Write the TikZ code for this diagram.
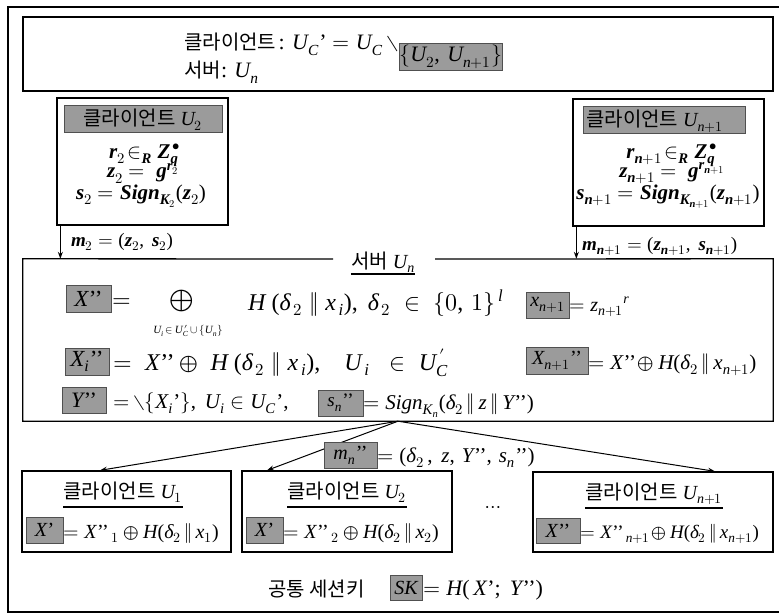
\documentclass[tikz,border=0pt]{standalone}
\usepackage{fontspec}
\usepackage{unicode-math}
\setmainfont{Liberation Serif}
\newfontfamily\kr{Noto Sans CJK KR}
\setmathfont{Latin Modern Math}
\setmathfont{Liberation Serif Italic}[range=it->up]
\setmathfont{Liberation Serif Bold Italic}[range=bfit->up]
\setmathfont{Liberation Serif}[range={"0030-"0039,"0028,"0029,"002C,"003B}]
\usetikzlibrary{arrows.meta,calc}
\definecolor{gfill}{RGB}{155,155,155}
\definecolor{gline}{RGB}{80,80,80}
\newcommand{\oddg}{\ensuremath{\setminus}}
\newcommand{\pr}{\mbox{\kern0.5pt’}}
\newcommand{\ppr}{\mbox{\kern0.5pt’’}}
\newcommand{\bi}[1]{\symbfit{#1}}
\begin{document}
\begin{tikzpicture}[x=1pt,y=-1pt,
  frame/.style={line width=1.4pt},
  box/.style={draw, line width=1.3pt, inner sep=0pt},
  ghost/.style={inner sep=0pt},
  gbox/.style={draw=gline, fill=gfill, line width=0.7pt, inner sep=0pt},
  t/.style={inner sep=0pt, font=\fontsize{20}{24}\selectfont},
  tl/.style={inner sep=0pt, font=\fontsize{24}{28}\selectfont},
  ts/.style={inner sep=0pt, font=\fontsize{21}{25}\selectfont},
  tb/.style={inner sep=0pt, font=\fontsize{21}{24}\selectfont\bfseries},
  tiny/.style={inner sep=0pt, font=\fontsize{11}{13}\selectfont},
  arr/.style={line width=1pt, -{Stealth[length=7pt,width=5pt]}},
  uline/.style={line width=1.2pt}]
\useasboundingbox (0,0) rectangle (779,615);
\begin{scope}
\clip (0,0) rectangle (779,615);
\draw[frame] (800,7) -- (8,7) -- (8,612) -- (800,612);
\end{scope}

% top box
\node[box, minimum width=750pt, minimum height=74pt] (top) at (398,54) {};
\node[anchor=base west, inner sep=0pt] (tl1) at (184,50) {{\fontsize{20}{24}\selectfont\kr 클라이언트} {\fontsize{22}{26}\selectfont : $U_{C}\pr=U_{C}$\,\oddg}};
\node[gbox, minimum height=27pt, anchor=west, font=\fontsize{22}{26}\selectfont] (tg) at ([yshift=-7pt]tl1.base east) {$\{U_2,\,U_{n+1}\}$};
\node[anchor=base west, inner sep=0pt] (tl2) at (184,78) {{\fontsize{20}{24}\selectfont\kr 서버}{\fontsize{22}{26}\selectfont: $U_n$}};

% client U2
\node[box, minimum width=171pt, minimum height=127pt] (c2) at (142.5,161.5) {};
\node[gbox, minimum width=158pt, minimum height=27pt] (c2h) at (143,118.5) {};
\node[t, anchor=base] (c2ht) at (143,126) {{\kr 클라이언트} $U_2$};
\node[tb, anchor=base] (c2a) at (145,158) {$\bi{r}_2\!\in_{\bi{R}} \bi{Z}_{\bi{q}}^{\,\bullet}$};
\node[tb, anchor=base] (c2b) at (143,178) {$\bi{z}_2=\ \bi{g}^{\bi{r}_2}$};
\node[tb, anchor=base] (c2c) at (141,199) {$\bi{s}_2=\bi{Sign}_{\bi{K}_2}(\bi{z}_2)$};
\node[tb, anchor=base west, font=\fontsize{19}{22}\selectfont] (m2) at (71,246) {$\bi{m}_2=(\bi{z}_2,\ \bi{s}_2)$};

% client Un+1
\node[box, minimum width=191pt, minimum height=127pt] (cn) at (668.5,162.5) {};
\node[gbox, minimum width=162pt, minimum height=27pt] (cnh) at (664,119.5) {};
\node[t, anchor=base west] (cnht) at (586,127) {{\kr 클라이언트} $U_{n+1}$};
\node[tb, anchor=base] (cna) at (672,158) {$\bi{r}_{\bi{n}+1}\!\in_{\bi{R}} \bi{Z}_{\bi{q}}^{\,\bullet}$};
\node[tb, anchor=base] (cnb) at (672,177) {$\bi{z}_{\bi{n}+1}=\ \bi{g}^{\bi{r}_{\bi{n}+1}}$};
\node[tb, anchor=base] (cnc) at (668,199) {$\bi{s}_{\bi{n}+1}=\bi{Sign}_{\bi{K}_{\bi{n}+1}}(\bi{z}_{\bi{n}+1})$};
\node[tb, anchor=base west, font=\fontsize{19}{22}\selectfont] (mn) at (582,250) {$\bi{m}_{\bi{n}+1}=(\bi{z}_{\bi{n}+1},\ \bi{s}_{\bi{n}+1})$};

% server
\node[ghost, minimum width=750pt, minimum height=162pt] (srv) at (398,340) {};
\node[t, anchor=base] (srvt) at (383,268) {{\kr 서버} $U_n$};
\coordinate (gapl) at (333,259);
\coordinate (gapr) at (435,259);
\draw[box] (gapl) -- (srv.north west) -- (srv.south west) -- (srv.south east) -- (srv.north east) -- (gapr);
\draw[uline] (srvt.west |- 0,274) -- (srvt.east |- 0,274);

\draw[arr] ([xshift=4pt]c2.south west) -- ([xshift=4pt]c2.south west |- srv.north);
\draw[arr] ([xshift=4pt]cn.south west) -- ([xshift=4pt]cn.south west |- srv.north);

% row 1
\node[gbox, minimum width=45pt, minimum height=27pt, font=\fontsize{23}{26}\selectfont] (xpp) at (88.5,298.5) {$X\ppr$};
\node[tl, anchor=base west] (r1eq) at (112,307) {$=$};
\node[anchor=center, inner sep=0pt, font=\fontsize{22}{24}\selectfont] (opl) at (182,301) {$\bigoplus$};
\node[tiny, anchor=center] (opsub) at (188,331) {$U_{i}\,{\in}\,U_{C}^{\,\prime}\,{\cup}\,\{U_{n}\}$};
\node[tl, anchor=base west] (r1b) at (248,310) {$H\ (\delta_{\,2}\;\|\;x_{\,i}),\ \delta_{\,2}\;\in\;\{0,\,1\}^{\,l}$};
\node[gbox, minimum width=43pt, minimum height=26pt, font=\fontsize{20}{24}\selectfont] (xn1) at (547.5,305) {$x_{n+1}$};
\node[t, anchor=base west] (r1c) at (569,311) {$=z_{n+1}{}^{r}$};

% row 2
\node[gbox, minimum width=44pt, minimum height=27pt, font=\fontsize{23}{26}\selectfont] (xipp) at (87,361.5) {$X_{i}\ppr$};
\node[tl, anchor=base west] (r2b) at (113,370) {$=\;X\ppr\oplus\;H\ (\delta_{\,2}\;\|\;x_{\,i}),\;\;\;U_{\,i}\;\;\in\;U_{C}^{\,\prime}$};
\node[gbox, minimum width=62pt, minimum height=27pt, font=\fontsize{20}{24}\selectfont] (xnpp) at (557,360.5) {$X_{n+1}\ppr$};
\node[tl, anchor=base west, font=\fontsize{21}{25}\selectfont] (r2c) at (588,369) {$=X\ppr\!\oplus H(\delta_{2}\,\|\,x_{n+1})$};

% row 3
\node[gbox, minimum width=44pt, minimum height=26pt, font=\fontsize{22}{26}\selectfont] (ypp) at (84,400) {$Y\ppr$};
\node[ts, anchor=base west] (r3b) at (113,408) {$=\,$\oddg$\{X_{i}\pr\},\ U_{i}\in U_{C}\pr,$};
\node[gbox, minimum width=45pt, minimum height=26pt, font=\fontsize{19}{22}\selectfont] (snpp) at (340.5,403) {$s_{n}\ppr$};
\node[ts, anchor=base west] (r3c) at (363,409) {$=Sign_{K_n}(\delta_{2}\,\|\,z\,\|\,Y\ppr)$};

% bottom clients
\node[box, minimum width=209pt, minimum height=81pt] (b1) at (126.5,511.5) {};
\node[box, minimum width=210pt, minimum height=81pt] (b2) at (347,511.5) {};
\node[box, minimum width=240pt, minimum height=80pt] (bn) at (653,512) {};

\draw[arr] (srv.south) -- ([xshift=-26.5pt]b1.north);
\draw[arr] (srv.south) -- ([xshift=-80pt]b2.north);
\draw[arr] (srv.south) -- ([xshift=62pt]bn.north);

\node[gbox, minimum width=53pt, minimum height=26pt, font=\fontsize{20}{24}\selectfont] (mnpp) at (350.5,455) {$m_{n}\ppr$};
\node[ts, anchor=base west] (mnt) at (377,462) {$=(\delta_{2}\,,\ z,\,Y\ppr,\,s_{n}\ppr)$};

\node[t, anchor=base] (b1t) at (123,498) {{\kr 클라이언트} $U_1$};
\draw[uline] (b1t.west |- 0,507) -- (b1t.east |- 0,507);
\node[t, anchor=base] (b2t) at (347,498) {{\kr 클라이언트} $U_2$};
\draw[uline] (b2t.west |- 0,507) -- (b2t.east |- 0,507);
\node[t, anchor=base] (bnt) at (654,499) {{\kr 클라이언트} $U_{n+1}$};
\draw[uline] (bnt.west |- 0,508) -- (bnt.east |- 0,508);

\node[gbox, minimum width=37pt, minimum height=26pt, font=\fontsize{20}{24}\selectfont] (g1) at (44.5,530) {$X\pr$};
\node[ts, anchor=base west, font=\fontsize{20}{24}\selectfont] (f1) at (63,538) {$=X\ppr_{\,1}\oplus H(\delta_{2}\,\|\,x_{1})$};
\node[gbox, minimum width=37pt, minimum height=26pt, font=\fontsize{20}{24}\selectfont] (g2) at (264.5,530) {$X\pr$};
\node[ts, anchor=base west, font=\fontsize{20}{24}\selectfont] (f2) at (283,538) {$=X\ppr_{\,2}\oplus H(\delta_{2}\,\|\,x_{2})$};
\node[gbox, minimum width=44pt, minimum height=25pt, font=\fontsize{20}{24}\selectfont] (gn) at (558,530.5) {$X\ppr$};
\node[ts, anchor=base west, font=\fontsize{19}{23}\selectfont] (fn) at (580,538) {$=X\ppr_{\,n+1}\!\oplus H(\delta_{2}\,\|\,x_{n+1})$};
\node[t, anchor=base] (dots) at (493,512) {$\cdots$};

% session key
\node[t, anchor=base west] (skt) at (268,596) {\kr 공통 세션키};
\node[gbox, minimum width=32pt, minimum height=25pt, font=\fontsize{20}{24}\selectfont] (sk) at (406,587.5) {$SK$};
\node[ts, anchor=base west, font=\fontsize{22}{26}\selectfont] (skf) at (423,595) {$=H(\,X\pr;\ Y\ppr)$};
\end{tikzpicture}
\end{document}
